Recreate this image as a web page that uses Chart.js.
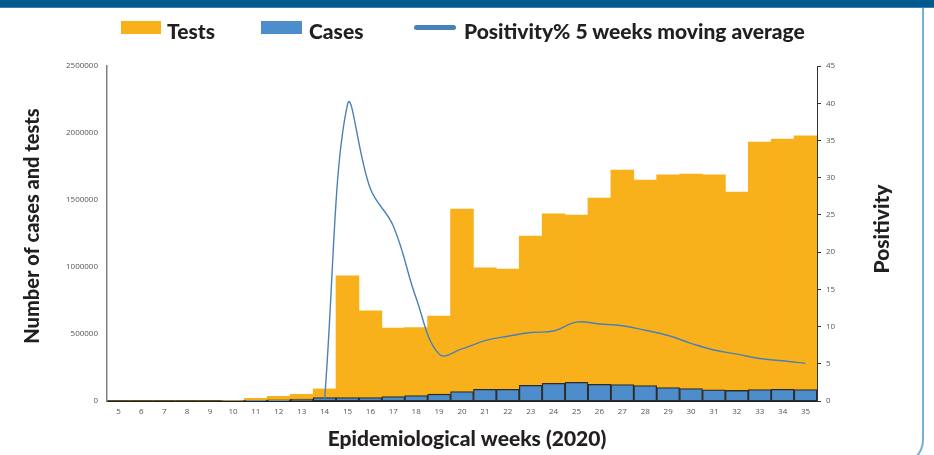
<!DOCTYPE html>
<html>
<head>
<meta charset="utf-8">
<script src="https://cdn.jsdelivr.net/npm/chart.js@4.4.1/dist/chart.umd.min.js"></script>
<style>
  html, body { margin:0; padding:0; background:#fff; }
  body { width:934px; height:455px; position:relative; overflow:hidden; font-family: Lato, "Open Sans", sans-serif; }
  #banner { position:absolute; left:0; top:0; width:934px; height:7px; background:#005a8f; border-bottom:1px solid #3c7fae; }
  #frame { position:absolute; left:-40px; top:8px; width:962px; height:455px; border-right:2px solid #78aed2; border-bottom:2px solid #78aed2; border-bottom-right-radius:25px; }
  #wrap { position:absolute; left:0; top:0; width:934px; height:455px; }
  .lg { position:absolute; font-weight:900; font-size:21px; color:#231f20; line-height:22px; white-space:nowrap; }
  .sw { position:absolute; }
</style>
</head>
<body>
<div id="banner"></div>
<div id="frame"></div>
<div id="wrap"><canvas id="c" width="934" height="455"></canvas></div>
<div class="sw" style="left:121px;top:21px;width:40px;height:13px;background:#F9B11B"></div>
<div class="lg" style="left:167px;top:20px">Tests</div>
<div class="sw" style="left:261px;top:21px;width:41px;height:13px;background:#4E8DCB"></div>
<div class="lg" style="left:309px;top:20px">Cases</div>
<div class="sw" style="left:414px;top:25px;width:42px;height:5px;border-radius:3px;background:#4A80B8"></div>
<div class="lg" style="left:464px;top:20px">Positivity% 5 weeks moving average</div>
<script>
const weeks = ['5','6','7','8','9','10','11','12','13','14','15','16','17','18','19','20','21','22','23','24','25','26','27','28','29','30','31','32','33','34','35'];
const tests = [0,0,0,0,0, 5000, 20000, 35000, 50000, 90000, 935000, 672000, 545000, 548000, 634000, 1433000, 993000, 985000, 1231000, 1396000, 1388000, 1515000, 1724000, 1649000, 1687000, 1694000, 1687000, 1560000, 1933000, 1955000, 1978000];
const cases = [0,0,0,0,0, 3000, 5000, 9000, 15000, 25000, 26000, 26000, 33000, 40000, 51000, 70000, 87000, 87000, 117000, 132000, 139000, 125000, 123000, 115000, 100000, 93000, 84000, 79000, 85000, 87000, 85000];
const positivity = [null,null,null,null,null,null,null,null,null, 0.2, 39.8, 28.5, 23.5, 13.8, 6.3, 7.0, 8.1, 8.7, 9.2, 9.4, 10.6, 10.35, 10.1, 9.5, 8.8, 7.75, 6.85, 6.3, 5.7, 5.4, 5.05];
const leftTicks = [0, 500000, 1000000, 1500000, 2000000, 2500000];
const rightTicks = [0,5,10,15,20,25,30,35,40,45];

function drawText(ctx, text, x, y, size, rot) {
  ctx.save();
  ctx.font = '900 ' + size + 'px Lato';
  ctx.fillStyle = '#231f20';
  ctx.textAlign = 'center';
  ctx.textBaseline = 'middle';
  ctx.translate(x, y);
  if (rot) ctx.rotate(rot);
  ctx.fillText(text, 0, 0);
  ctx.restore();
}
const axisTitles = {
  id: 'axisTitles',
  afterDraw(chart) {
    const ctx = chart.ctx;
    drawText(ctx, 'Number of cases and tests', 33, 226, 20, -Math.PI/2);
    drawText(ctx, 'Positivity', 882, 229, 21, -Math.PI/2);
    drawText(ctx, 'Epidemiological weeks (2020)', 467, 439, 21, 0);
  }
};

new Chart(document.getElementById('c'), {
  data: {
    labels: weeks,
    datasets: [
      { type:'line', label:'Positivity% 5 weeks moving average', data: positivity, yAxisID:'y1', borderColor:'#4A80B8', borderWidth:1.4, pointRadius:0, tension:0.4, order:0, fill:false },
      { type:'bar', label:'Cases', data: cases, yAxisID:'y', backgroundColor:'#4E8DCB', borderColor:'#2b2b2b', borderWidth:1.3, borderSkipped:false, grouped:false, barPercentage:1, categoryPercentage:1, order:1 },
      { type:'bar', label:'Tests', data: tests, yAxisID:'y', backgroundColor:'#F9B11B', borderWidth:0, grouped:false, barPercentage:1, categoryPercentage:1, order:2 }
    ]
  },
  options: {
    responsive:false, animation:false,
    layout:{ padding:{ top:66, left:0, right:0, bottom:0 } },
    plugins:{ legend:{display:false}, tooltip:{enabled:false} },
    scales:{
      x:{
        grid:{display:false, drawTicks:false},
        border:{display:true, color:'#231f20', width:2},
        ticks:{ font:{family:'Open Sans', size:8}, color:'#555', padding:6, maxRotation:0, autoSkip:false },
        afterFit(s){ s.height = 54; }
      },
      y:{
        position:'left', min:0, max:2500000,
        grid:{display:false, drawTicks:false},
        border:{display:true, color:'#808080', width:1.5},
        afterBuildTicks(s){ s.ticks = leftTicks.map(v=>({value:v})); },
        ticks:{ font:{family:'Open Sans', size:8}, color:'#555', padding:9, callback:v=>String(v) },
        afterFit(s){ s.width = 107; }
      },
      y1:{
        position:'right', min:0, max:45,
        grid:{display:true, drawOnChartArea:false, drawTicks:true, tickLength:4, color:'#333'},
        border:{display:true, color:'#333', width:1},
        afterBuildTicks(s){ s.ticks = rightTicks.map(v=>({value:v})); },
        ticks:{ font:{family:'Open Sans', size:8}, color:'#555', padding:5 },
        afterFit(s){ s.width = 117; }
      }
    }
  },
  plugins:[axisTitles]
});
</script>
</body>
</html>
